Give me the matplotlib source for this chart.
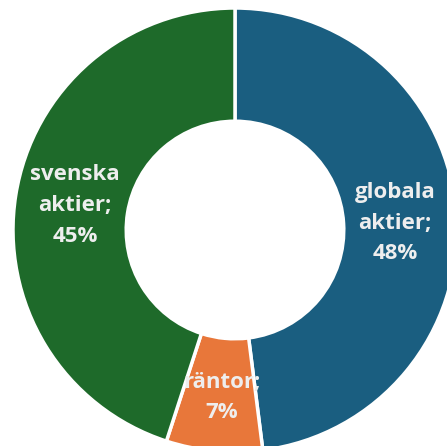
import matplotlib.pyplot as plt

# Data
labels = ['globala\naktier;\n48%', 'räntor;\n7%', 'svenska\naktier;\n45%']
values = [48, 7, 45]
colors = ['#1a5e80', '#e8773a', '#1e6a2a']

fig = plt.figure(figsize=(4.47, 4.46), dpi=100)
ax = fig.add_axes([0, 0, 1, 1])

# Donut, clockwise from 12 o'clock
wedges, _ = ax.pie(values, colors=colors, startangle=90, counterclock=False,
                   radius=1, wedgeprops=dict(width=0.51, edgecolor='white', linewidth=2.5))

# Labels placed by hand over each slice
label_pos = [(0.72, 0.03), (-0.06, -0.755), (-0.72, 0.11)]
for text, (x, y) in zip(labels, label_pos):
    ax.text(x, y, text, ha='center', va='center', fontsize=16, fontweight='bold',
            color='#eeeeee', family='Open Sans', linespacing=1.6)

# The chart is cropped on the right and bottom
scale = 222
ax.set_xlim(-235 / scale, (447 - 235) / scale)
ax.set_ylim(-(446 - 230) / scale, 230 / scale)
ax.set_aspect('auto')
ax.axis('off')

fig.savefig('out.png', dpi=100)
